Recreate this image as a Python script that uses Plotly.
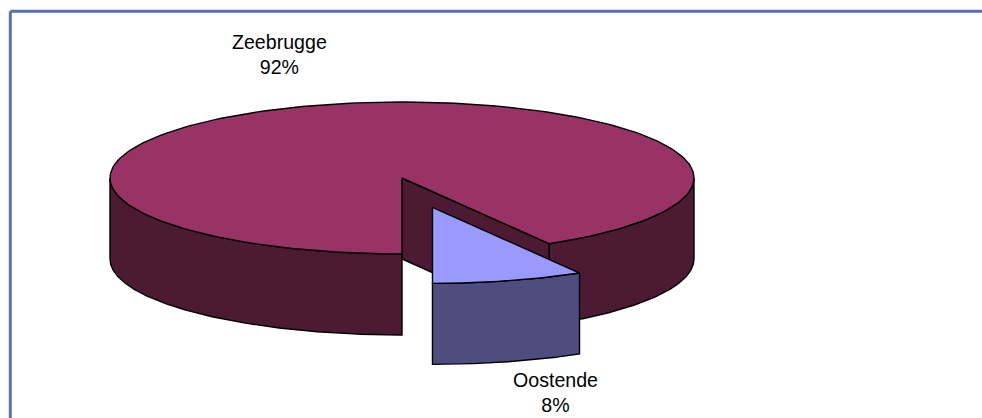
import numpy as np
import plotly.graph_objects as go

labels = ["Zeebrugge", "Oostende"]
values = [91.6, 8.4]
top_colors = ["#993366", "#9999FF"]
side_colors = ["#4D1A33", "#4D4D80"]

# projection of the tilted pie, in picture pixels
W, H = 982, 418
CX, CY, RX, RY, DEPTH = 402.0, 178.0, 292.0, 76.0, 81.0
EXPLODE = 0.40
START = 90.0  # slices start straight down, Oostende runs towards the right

share = np.array(values) / sum(values)
span = share[1] * 360.0


def arc(a0, a1, dx=0.0, dy=0.0):
    a = np.radians(np.linspace(a0, a1, 240))
    return CX + dx + RX * np.cos(a), CY + dy + RY * np.sin(a)


def poly(fig, xs, ys, fill):
    fig.add_trace(go.Scatter(x=list(xs), y=list(ys), mode="lines", fill="toself",
                             fillcolor=fill, line=dict(color="#000000", width=1.4),
                             hoverinfo="skip", showlegend=False))


def wall(fig, a0, a1, fill, dx=0.0, dy=0.0):
    x, y = arc(a0, a1, dx, dy)
    poly(fig, np.r_[x, x[::-1], x[0]], np.r_[y, (y + DEPTH)[::-1], y[0]], fill)


fig = go.Figure()
end = START - span

# Zeebrugge: right wall, cut face, left wall, top
wall(fig, 0, end, side_colors[0])
ex, ey = arc(end, end)
poly(fig, [CX, ex[0], ex[0], CX, CX], [CY, ey[0], ey[0] + DEPTH, CY + DEPTH, CY], side_colors[0])
wall(fig, START, 180, side_colors[0])
tx, ty = arc(end - 0, START - 360)
poly(fig, np.r_[CX, tx, CX], np.r_[CY, ty, CY], top_colors[0])

# Oostende: pulled out along its mid angle
mid = np.radians(START - span / 2)
dx, dy = EXPLODE * RX * np.cos(mid), EXPLODE * RY * np.sin(mid)
wall(fig, end, START, side_colors[1], dx, dy)
tx, ty = arc(end, START, dx, dy)
poly(fig, np.r_[CX + dx, tx, CX + dx], np.r_[CY + dy, ty, CY + dy], top_colors[1])

# frame: top and left edges only
frame = dict(color="#5B70B4", width=3)
shapes = [
    dict(type="line", x0=10.3, x1=W, y0=11.3, y1=11.3, line=frame, layer="below"),
    dict(type="line", x0=10.3, x1=10.3, y0=11.3, y1=H, line=frame, layer="below"),
]

label_pos = [(279.5, 54.5), (555, 392.5)]
annotations = [
    dict(x=p[0], y=p[1], text=f"{n}<br>{round(s * 100)}%", showarrow=False,
         xanchor="center", yanchor="middle", align="center",
         font=dict(family="Liberation Sans", size=19.6, color="#000000"))
    for n, s, p in zip(labels, share, label_pos)
]

fig.update_layout(
    width=W, height=H, margin=dict(l=0, r=0, t=0, b=0),
    paper_bgcolor="#FFFFFF", plot_bgcolor="#FFFFFF",
    xaxis=dict(range=[0, W], visible=False, fixedrange=True),
    yaxis=dict(range=[H, 0], visible=False, fixedrange=True),
    shapes=shapes, annotations=annotations, showlegend=False,
)

fig.write_html("out.html", config={"displayModeBar": False},
               post_script="document.body.style.margin='0';document.documentElement.style.overflow='hidden';")
